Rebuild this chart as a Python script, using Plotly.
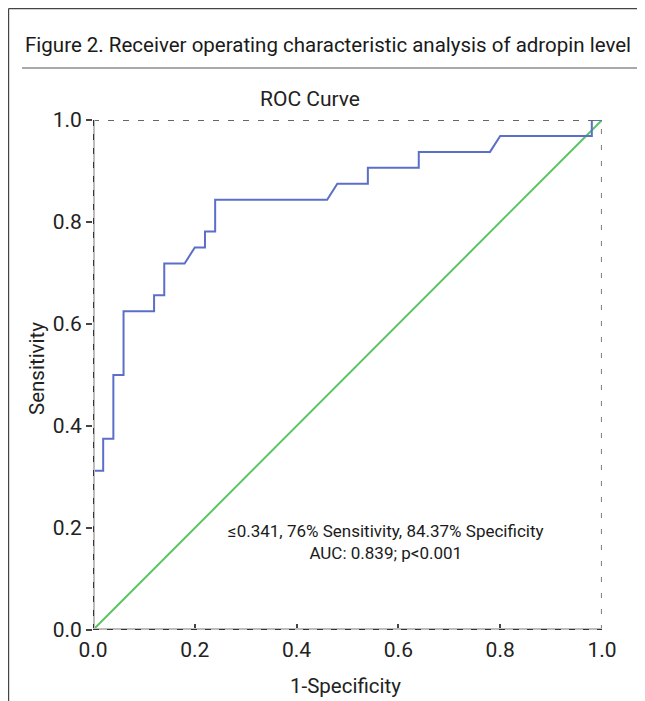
import plotly.graph_objects as go

# ROC curve data
fpr = [0.0, 0.0, 0.02, 0.02, 0.04, 0.04, 0.06, 0.06, 0.12, 0.12, 0.14, 0.14, 0.18, 0.20, 0.22, 0.22,
       0.24, 0.24, 0.46, 0.48, 0.54, 0.54, 0.64, 0.64, 0.78, 0.80, 0.98, 0.98, 1.0]
tpr = [0.0, 0.3125, 0.3125, 0.375, 0.375, 0.5, 0.5, 0.625, 0.625, 0.65625, 0.65625, 0.71875, 0.71875, 0.75, 0.75, 0.78125,
       0.78125, 0.84375, 0.84375, 0.875, 0.875, 0.90625, 0.90625, 0.9375, 0.9375, 0.96875, 0.96875, 1.0, 1.0]
ref_x = [0.0, 1.0]
ref_y = [0.0, 1.0]
tick_vals = [0.0, 0.2, 0.4, 0.6, 0.8, 1.0]
tick_text = ["0.0", "0.2", "0.4", "0.6", "0.8", "1.0"]

FONT = "Roboto"
OFF = 8  # default page body margin
W, H = 645 - OFF, 701 - OFF
L, T = 93 - OFF, 120 - OFF
pw, ph = 509, 510
R = W - L - pw
B = H - T - ph


def px(x):
    return (x - OFF - L) / pw


def py(y):
    return (T + ph - (y - OFF)) / ph


fig = go.Figure()
fig.add_trace(go.Scatter(x=ref_x, y=ref_y, mode="lines",
                         line=dict(color="#5cc464", width=2), cliponaxis=False, hoverinfo="skip"))
fig.add_trace(go.Scatter(x=fpr, y=tpr, mode="lines",
                         line=dict(color="#5b6fc7", width=2), cliponaxis=False))

shapes = []
# outer frame
shapes.append(dict(type="line", xref="paper", yref="paper", x0=px(8.6), x1=px(645), y0=py(8.6), y1=py(8.6),
                   line=dict(color="#444", width=1.2)))
shapes.append(dict(type="line", xref="paper", yref="paper", x0=px(8.6), x1=px(8.6), y0=py(8.6), y1=py(701),
                   line=dict(color="#444", width=1.2)))
# separator under figure title
shapes.append(dict(type="line", xref="paper", yref="paper", x0=px(22), x1=px(645), y0=py(68), y1=py(68),
                   line=dict(color="#555", width=1.2)))
# top and right dashed borders
shapes.append(dict(type="line", xref="x", yref="y", x0=0, x1=1, y0=1, y1=1,
                   line=dict(color="#666", width=2, dash="6px,9px")))
shapes.append(dict(type="line", xref="x", yref="y", x0=1, x1=1, y0=0, y1=1,
                   line=dict(color="#888", width=2.2, dash="5px,11px")))
# left and bottom axes: light solid + dark dashes
for (x0, x1, y0, y1) in [(0, 0, 0, 1), (0, 1, 0, 0)]:
    shapes.append(dict(type="line", xref="x", yref="y", x0=x0, x1=x1, y0=y0, y1=y1,
                       line=dict(color="#bdbdbd", width=4), layer="above"))
    shapes.append(dict(type="line", xref="x", yref="y", x0=x0, x1=x1, y0=y0, y1=y1,
                       line=dict(color="#333", width=2, dash="6px,8px"), layer="above"))

annotations = [
    dict(xref="paper", yref="paper", x=px(328), y=py(45), xanchor="center", yanchor="middle",
         text="Figure 2. Receiver operating characteristic analysis of adropin level",
         showarrow=False, font=dict(family=FONT, size=20.5, color="#1a1a1a")),
    dict(xref="paper", yref="paper", x=px(310), y=py(99), xanchor="center", yanchor="middle",
         text="ROC Curve", showarrow=False, font=dict(family=FONT, size=21, color="#222")),
    dict(xref="paper", yref="paper", x=px(345), y=py(686), xanchor="center", yanchor="middle",
         text="1-Specificity", showarrow=False, font=dict(family=FONT, size=20.5, color="#222")),
    dict(xref="paper", yref="paper", x=px(37), y=py(369), xanchor="center", yanchor="middle",
         text="Sensitivity", textangle=-90, showarrow=False, font=dict(family=FONT, size=20.5, color="#222")),
    dict(xref="paper", yref="paper", x=px(386), y=py(542), xanchor="center", yanchor="middle",
         text="≤0.341, 76% Sensitivity, 84.37% Specificity<br>AUC: 0.839; p<0.001", align="center",
         showarrow=False, font=dict(family=FONT, size=17, color="#1a1a1a")),
]

axis_common = dict(range=[0, 1], tickmode="array", tickvals=tick_vals, ticktext=tick_text,
                   showgrid=False, zeroline=False, showline=False, ticklen=6,
                   tickwidth=1.5, tickcolor="#444", tickfont=dict(family=FONT, size=21, color="#222"))

fig.update_layout(
    width=W, height=H, margin=dict(l=L, r=R, t=T, b=B),
    paper_bgcolor="white", plot_bgcolor="white", showlegend=False,
    xaxis=dict(**axis_common, ticks="inside", ticklabelstandoff=5),
    yaxis=dict(**axis_common, ticks="outside", ticklabelstandoff=0),
    shapes=shapes, annotations=annotations,
)
fig.write_html("out.html")
